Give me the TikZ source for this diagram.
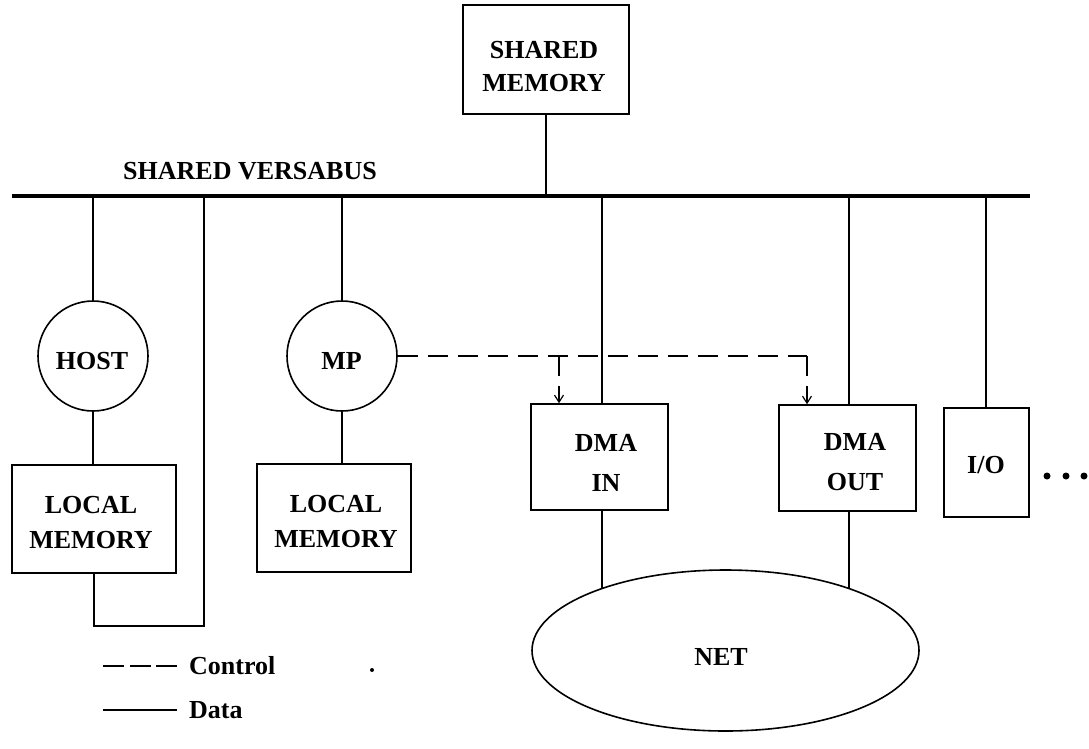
\documentclass[tikz,border=0pt]{standalone}
\usepackage{fontspec}
\setmainfont{Liberation Serif}
\usetikzlibrary{shapes.geometric,arrows.meta}
\begin{document}
\begin{tikzpicture}[x=1pt,y=-1pt,
  lbl/.style={font=\bfseries\fontsize{26}{33}\selectfont, align=center, inner sep=0pt},
  unit/.style={draw, line width=1.6pt, rectangle, inner sep=0pt},
  proc/.style={draw, line width=1.6pt, circle, minimum size=110pt, inner sep=0pt},
  data/.style={line width=1.2pt},
  ctrl/.style={line width=1.3pt, dash pattern=on 20pt off 10pt},
  tip/.style={-{Straight Barb[length=7pt,width=9pt,line width=1.2pt]}},
  bus/.style={line width=4pt},
  dot/.style={circle, fill, inner sep=0pt}]

% page frame
\path[fill=white, use as bounding box] (0,0) rectangle (1089,748);

% shared memory on top of the bus
\node[unit, minimum width=166pt, minimum height=109pt] (sm) at (546,59.5) {};
\node[lbl] (smT) at (544,66.5) {SHARED\\MEMORY};

% the bus itself
\coordinate (busL) at (12,196);
\coordinate (busR) at (1030,196);
\draw[bus] (busL) -- (busR);
\node[lbl] (busT) at (250,171.5) {SHARED VERSABUS};
\draw[data] (sm.south) -- (sm.south |- busL);

% bus taps
\coordinate (tapHost) at (93,196);
\coordinate (tapLoop) at (204,196);
\coordinate (tapMp)   at (342,196);
\coordinate (tapIn)   at (602,196);
\coordinate (tapOut)  at (849,196);
\coordinate (tapIo)   at (986,196);

% host side
\node[proc] (host) at (93,356) {};
\node[lbl] (hostT) at (92,361) {HOST};
\node[unit, minimum width=164pt, minimum height=108pt] (lm1) at (94,519) {};
\node[lbl, font=\bfseries\fontsize{26}{35}\selectfont] (lm1T) at (91,522.5) {LOCAL\\MEMORY};
\draw[data] (tapHost) -- (host.north);
\draw[data] (host.south) -- (host.south |- lm1.north);
\coordinate (loopBot) at (204,626);
\draw[data] (lm1.south) |- (loopBot) -- (tapLoop);

% message processor
\node[proc] (mp) at (342,356) {};
\node[lbl] (mpT) at (341.5,361) {MP};
\node[unit, minimum width=154pt, minimum height=108pt] (lm2) at (334,518) {};
\node[lbl, font=\bfseries\fontsize{26}{35}\selectfont] (lm2T) at (336,522) {LOCAL\\MEMORY};
\draw[data] (tapMp) -- (mp.north);
\draw[data] (mp.south) -- (mp.south |- lm2.north);

% DMA units and I/O
\node[unit, minimum width=137pt, minimum height=106pt] (dmain) at (599.5,457) {};
\node[lbl, font=\bfseries\fontsize{26}{40}\selectfont] (dmainT) at (606,463) {DMA\\IN};
\node[unit, minimum width=137pt, minimum height=106pt] (dmaout) at (847.5,458) {};
\node[lbl, font=\bfseries\fontsize{26}{40}\selectfont] (dmaoutT) at (855,462.5) {DMA\\OUT};
\node[unit, minimum width=85pt, minimum height=109pt] (io) at (986.5,462.5) {};
\node[lbl] (ioT) at (986,465) {I/O};
\draw[data] (tapIn) -- (tapIn |- dmain.north);
\draw[data] (tapOut) -- (tapOut |- dmaout.north);
\draw[data] (tapIo) -- (tapIo |- io.north);

\node[dot, minimum size=7pt] (d1) at (1047,476) {};
\node[dot, minimum size=7pt] (d2) at (1066,476) {};
\node[dot, minimum size=7pt] (d3) at (1084,476) {};

% network
\node[draw, line width=1.6pt, ellipse, minimum width=387pt, minimum height=161pt, inner sep=0pt] (net) at (725.5,650.5) {};
\node[lbl] (netT) at (721,657) {NET};
\draw[data] (tapIn |- dmain.south) -- (tapIn |- net.153.3);
\draw[data] (tapOut |- dmaout.south) -- (tapOut |- net.26.7);

% control paths from MP
\coordinate (ctlIn)  at (559,356);
\coordinate (ctlOut) at (807,356);
\draw[ctrl] (mp.east) -- (ctlOut);
\draw[ctrl, tip] (ctlIn) -- (ctlIn |- dmain.north);
\draw[ctrl, tip] (ctlOut) -- (ctlOut |- dmaout.north);

% legend
\coordinate (lgC1) at (103,666);
\coordinate (lgC2) at (177,666);
\coordinate (lgD1) at (103,710);
\coordinate (lgD2) at (177,710);
\draw[line width=1.3pt, dash pattern=on 21pt off 5.5pt] (lgC1) -- (lgC2);
\draw[data] (lgD1) -- (lgD2);
\node[lbl, anchor=west] (lgCT) at (189,666) {Control};
\node[lbl, anchor=west] (lgDT) at (189,710) {Data};
\node[dot, minimum size=4pt] (speck) at (372,670) {};
\end{tikzpicture}
\end{document}
